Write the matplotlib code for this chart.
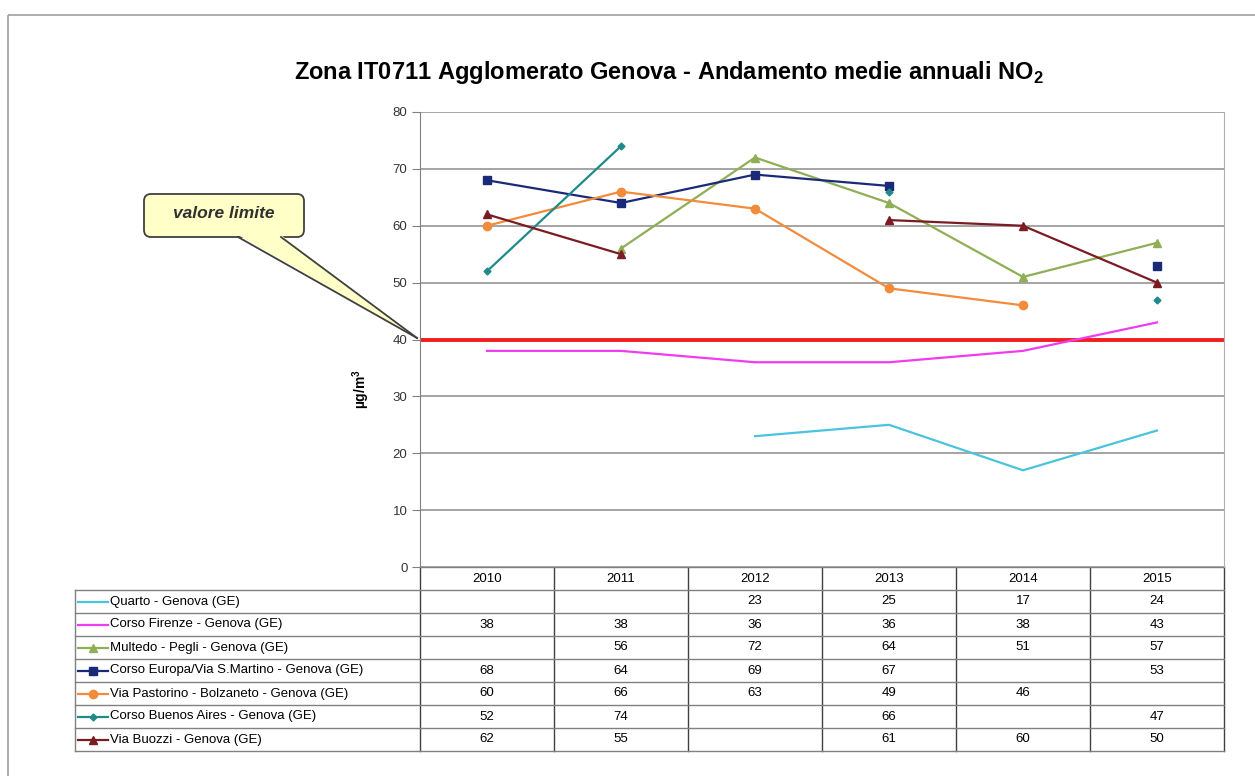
import numpy as np
import matplotlib
matplotlib.use("Agg")
import matplotlib.pyplot as plt
from matplotlib.patches import FancyBboxPatch, Polygon, Rectangle

plt.rcParams['font.family'] = ['Liberation Sans', 'DejaVu Sans']
plt.rcParams['mathtext.fontset'] = 'custom'
plt.rcParams['mathtext.rm'] = 'Liberation Sans'
plt.rcParams['mathtext.bf'] = 'Liberation Sans:bold'

# --- data ---
years = ['2010', '2011', '2012', '2013', '2014', '2015']
stations = ['Quarto - Genova (GE)',
            'Corso Firenze - Genova (GE)',
            'Multedo - Pegli - Genova (GE)',
            'Corso Europa/Via S.Martino - Genova (GE)',
            'Via Pastorino - Bolzaneto - Genova (GE)',
            'Corso Buenos Aires - Genova (GE)',
            'Via Buozzi - Genova (GE)']
quarto = [np.nan, np.nan, 23, 25, 17, 24]
firenze = [38, 38, 36, 36, 38, 43]
multedo = [np.nan, 56, 72, 64, 51, 57]
europa = [68, 64, 69, 67, np.nan, 53]
pastorino = [60, 66, 63, 49, 46, np.nan]
buenos_aires = [52, 74, np.nan, 66, np.nan, 47]
buozzi = [62, 55, np.nan, 61, 60, 50]
limit_value = 40

series = [quarto, firenze, multedo, europa, pastorino, buenos_aires, buozzi]
colors = ['#4BC3DE', '#F03CF0', '#8FAE55', '#1B2A78', '#F28C3C', '#1F8A8A', '#7A1C22']
markers = [None, None, '^', 's', 'o', 'D', '^']
msizes = [0, 0, 6, 6, 6, 3.5, 6]

W, H = 1255, 776
fig = plt.figure(figsize=(W / 100, H / 100), dpi=100)

# overlay axes in pixel coordinates for frame, table and callout
bg = fig.add_axes([0, 0, 1, 1])
bg.set_xlim(0, W)
bg.set_ylim(H, 0)
bg.axis('off')
bg.add_patch(Rectangle((8, 15), W, H, fill=False, ec='#A0A0A0', lw=1.2))

# main chart
x0, x1, y_top, y_bot = 420, 1224, 112, 567
ax = fig.add_axes([x0 / W, 1 - y_bot / H, (x1 - x0) / W, (y_bot - y_top) / H])
x = np.arange(len(years))
ax.set_xlim(-0.5, len(years) - 0.5)
ax.set_ylim(0, 80)
ax.set_yticks(range(0, 81, 10))
ax.set_xticks([])
ax.yaxis.grid(True, color='#8C8C8C', lw=1.1)
ax.set_axisbelow(True)
for s in ['top', 'bottom']:
    ax.spines[s].set_visible(False)
ax.spines['left'].set_color('#808080')
ax.spines['right'].set_color('#B0B0B0')
ax.tick_params(axis='y', labelsize=9.5, colors='#333333', length=6, color='#808080', pad=3)
ax.set_ylabel('µg/m$^\\mathbf{3}$', fontsize=10, fontweight='bold')
ax.yaxis.set_label_coords(-0.060, 0.392)

ax.axhline(limit_value, color='#F01E1E', lw=2.8, zorder=2)
for vals, c, m, ms in zip(series, colors, markers, msizes):
    ax.plot(x, vals, color=c, lw=1.6, marker=m, markersize=ms, zorder=3)

fig.text(669 / W, 1 - 72 / H, 'Zona IT0711 Agglomerato Genova - Andamento medie annuali NO$_\\mathbf{2}$',
         ha='center', va='center', fontsize=17, fontweight='bold')

# data table
col_w = (x1 - x0) / len(years)
tab_left = 75
row_h = 23
hdr_top = y_bot
rows_top = hdr_top + row_h
tab_bot = rows_top + row_h * len(stations)
fs = 9.5

for i, yr in enumerate(years):
    bg.text(x0 + col_w * (i + 0.5), hdr_top + row_h / 2, yr, ha='center', va='center', fontsize=fs)
for i in range(len(years) + 1):
    xx = x0 + col_w * i
    bg.plot([xx, xx], [hdr_top, tab_bot], color='#404040', lw=1.0)
bg.plot([tab_left, tab_left], [rows_top, tab_bot], color='#808080', lw=1.0)
bg.plot([x0, x1], [hdr_top, hdr_top], color='#808080', lw=1.0)
for r in range(len(stations) + 1):
    yy = rows_top + r * row_h
    bg.plot([tab_left, x1], [yy, yy], color='#808080', lw=1.0)

for r, (name, vals, c, m, ms) in enumerate(zip(stations, series, colors, markers, msizes)):
    yc = rows_top + row_h * (r + 0.5)
    bg.plot([78, 108], [yc, yc], color=c, lw=1.6)
    if m:
        bg.plot([93], [yc], marker=m, color=c, markersize=ms)
    bg.text(110, yc, name, ha='left', va='center', fontsize=fs)
    for i, v in enumerate(vals):
        if not np.isnan(v):
            bg.text(x0 + col_w * (i + 0.5), yc, f'{v:.0f}', ha='center', va='center', fontsize=fs)

# callout "valore limite"
tip = (417, 338)
box = FancyBboxPatch((144, 194), 160, 43, boxstyle='round,pad=0,rounding_size=7',
                     fc='#FFFFC8', ec='#404040', lw=1.3, zorder=5)
bg.add_patch(box)
bg.add_patch(Polygon([(238, 235), (281, 235), tip], closed=True, fc='#FFFFC8', ec='none', zorder=6))
bg.plot([238, tip[0]], [237, tip[1]], color='#404040', lw=1.3, zorder=7)
bg.plot([281, tip[0]], [237, tip[1]], color='#404040', lw=1.3, zorder=7)
bg.text(224, 214, 'valore limite', ha='center', va='center', fontsize=12.5,
        fontstyle='italic', fontweight='bold', color='#303030', zorder=8)

fig.savefig('out.png', dpi=100)
